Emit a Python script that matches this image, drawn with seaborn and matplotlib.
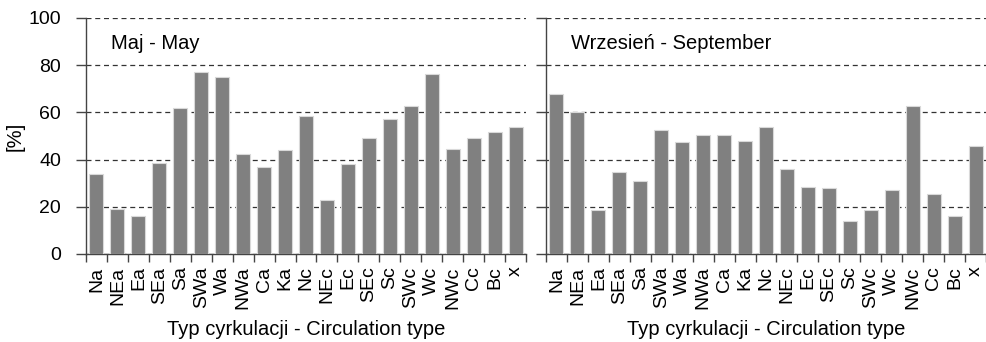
import matplotlib
matplotlib.use("Agg")
import matplotlib.pyplot as plt
import seaborn as sns
import pandas as pd
import numpy as np
from matplotlib.ticker import FixedLocator

categories = ["Na", "NEa", "Ea", "SEa", "Sa", "SWa", "Wa", "NWa", "Ca", "Ka",
              "Nc", "NEc", "Ec", "SEc", "Sc", "SWc", "Wc", "NWc", "Cc", "Bc", "x"]
may_values = [34.0, 19.1, 16.1, 38.6, 62.0, 77.1, 75.1, 42.4, 37.0, 43.9,
              58.5, 22.9, 38.1, 49.0, 57.3, 62.7, 76.4, 44.6, 49.0, 51.7, 54.0]
sep_values = [67.9, 60.0, 18.8, 34.7, 30.8, 52.4, 47.3, 50.3, 50.3, 47.9,
              53.7, 36.2, 28.2, 28.0, 14.1, 18.5, 27.3, 62.7, 25.3, 16.0, 45.9]
panel_titles = ["Maj - May", "Wrzesień - September"]
y_ticks = [0, 20, 40, 60, 80, 100]
x_label = "Typ cyrkulacji - Circulation type"
y_label = "[%]"

sns.set_style("white")
plt.rcParams['font.family'] = ['Liberation Sans', 'DejaVu Sans']
plt.rcParams['text.color'] = 'black'
plt.rcParams['axes.labelcolor'] = 'black'
plt.rcParams['xtick.labelcolor'] = 'black'
plt.rcParams['ytick.labelcolor'] = 'black'

fig = plt.figure(figsize=(9.86, 3.42), dpi=100)
ax1 = fig.add_axes([86/986, 1-254/342, 440/986, 236/342])
ax2 = fig.add_axes([546/986, 1-254/342, 440/986, 236/342])

fs_tick = 14
fs_lab = 14.5
for ax, vals, title, show_y in [(ax1, may_values, panel_titles[0], True),
                                 (ax2, sep_values, panel_titles[1], False)]:
    df = pd.DataFrame({"cat": categories, "val": vals})
    sns.barplot(data=df, x="cat", y="val", order=categories, color="#808080",
                saturation=1, width=0.67, edgecolor="#d9d9d9", linewidth=0.8,
                ax=ax, zorder=3)
    ax.set_xlim(-0.5, len(categories) - 0.5)
    ax.set_ylim(0, 100)
    ax.set_yticks(y_ticks)
    ax.yaxis.grid(True, linestyle=(0, (4, 3)), color="#333333", linewidth=0.9, zorder=0)
    ax.xaxis.grid(False)
    ax.set_axisbelow(True)
    for s in ["top", "right"]:
        ax.spines[s].set_visible(False)
    for s in ["left", "bottom"]:
        ax.spines[s].set_color("#444444")
        ax.spines[s].set_linewidth(1.0)
    ax.xaxis.set_minor_locator(FixedLocator(np.arange(-0.5, len(categories), 1.0)))
    ax.tick_params(axis="x", which="major", length=0, labelsize=fs_tick, labelrotation=90, pad=9)
    ax.tick_params(axis="x", which="minor", length=6, width=1, color="#444444", direction="out", bottom=True)
    ax.tick_params(axis="y", which="major", length=7, width=1, color="#444444", direction="out", left=True,
                   labelsize=fs_tick, labelleft=show_y, pad=11)
    ax.set_xlabel(x_label, fontsize=fs_lab, labelpad=8)
    if show_y:
        ax.set_ylabel(y_label, fontsize=fs_lab, labelpad=3)
    else:
        ax.set_ylabel("")
    ax.text(0.057, 0.89, title, transform=ax.transAxes, fontsize=fs_lab, va="center", ha="left")

fig.savefig("out.png", dpi=100)
